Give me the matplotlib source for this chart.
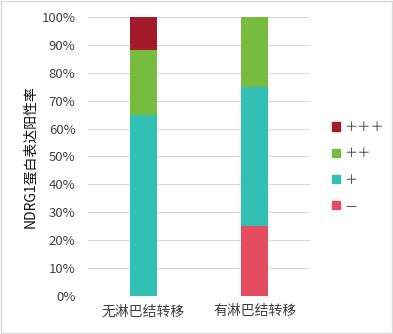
import matplotlib.pyplot as plt
from matplotlib.patches import Patch

plt.rcParams['font.family'] = ['Noto Sans CJK SC', 'DejaVu Sans']

# 数据
groups = ['无淋巴结转移', '有淋巴结转移']
neg = [0.0, 0.25]          # －
plus1 = [11 / 17, 0.50]    # ＋
plus2 = [4 / 17, 0.25]     # ＋＋
plus3 = [2 / 17, 0.0]      # ＋＋＋
labels = ['－', '＋', '＋＋', '＋＋＋']
colors = ['#E64C5F', '#31C0B3', '#77BC3F', '#A31A2A']

fig = plt.figure(figsize=(3.93, 3.34), dpi=100)
ax = fig.add_axes([0.224, 0.114, 0.565, 0.835])

x = range(len(groups))
bottom = [0.0, 0.0]
for vals, c in zip([neg, plus1, plus2, plus3], colors):
    ax.bar(x, vals, width=0.25, bottom=bottom, color=c, zorder=3)
    bottom = [b + v for b, v in zip(bottom, vals)]

ax.set_xlim(-0.5, 1.5)
ax.set_ylim(0, 1.0)
ax.set_yticks([i / 10 for i in range(11)])
ax.set_yticklabels([f'{i * 10}%' for i in range(11)])
ax.set_xticks(list(x))
ax.set_xticklabels(groups)
ax.grid(axis='y', color='#D9D9D9', linewidth=0.8, zorder=0)
ax.tick_params(axis='y', length=0, colors='#404040', labelsize=9.5, pad=9)
ax.tick_params(axis='x', length=0, colors='#404040', labelsize=10, pad=6)
for s in ax.spines.values():
    s.set_visible(False)
ax.set_ylabel('NDRG1蛋白表达阳性率', fontsize=10, color='#111111', labelpad=3)

handles = [Patch(color=c, label=l) for c, l in zip(colors, labels)][::-1]
fig.legend(handles=handles, loc='center left', bbox_to_anchor=(0.815, 0.5),
           frameon=False, fontsize=9.5, handlelength=0.6, handleheight=0.6,
           handletextpad=0.3, labelspacing=1.0, labelcolor='#404040')

# 外框
fig.patches.append(plt.Rectangle((0.002, 0.002), 0.996, 0.996, transform=fig.transFigure,
                                 fill=False, edgecolor='#D9D9D9', linewidth=1))

fig.savefig('out.png', dpi=100)
